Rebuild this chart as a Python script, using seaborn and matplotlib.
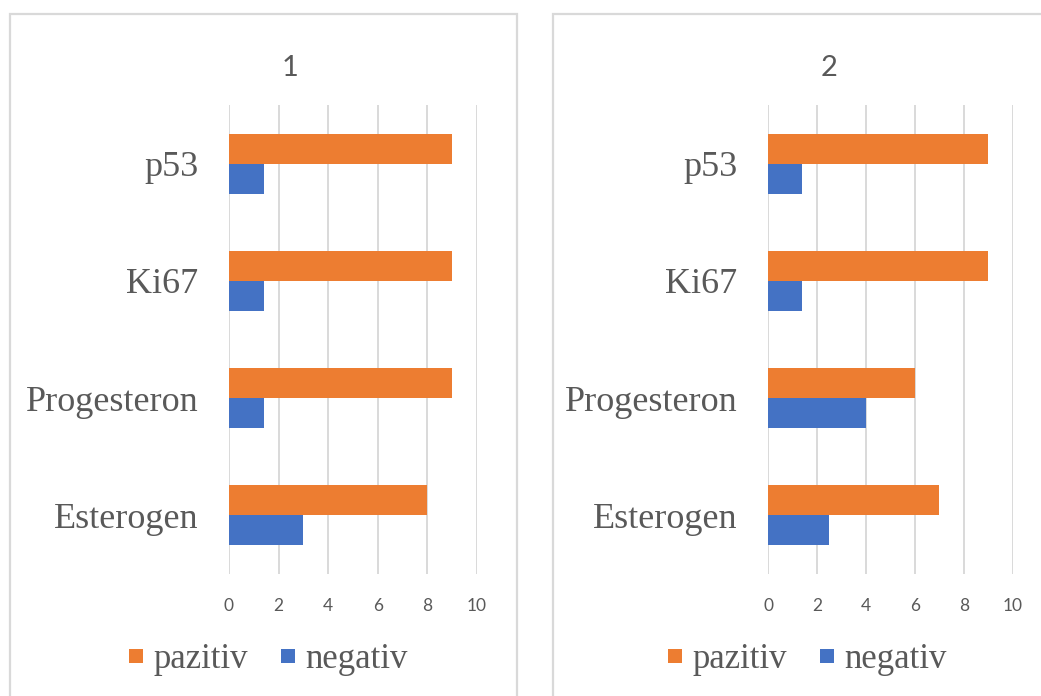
import matplotlib
matplotlib.use("Agg")
import matplotlib.pyplot as plt
from matplotlib.patches import Rectangle
from matplotlib.lines import Line2D
import seaborn as sns
import pandas as pd

# Marker names, top to bottom
markers = ["p53", "Ki67", "Progesteron", "Esterogen"]
series = ["pazitiv", "negativ"]

# Group 1
pazitiv_1 = [9, 9, 9, 8]
negativ_1 = [1.4, 1.4, 1.4, 3]

# Group 2
pazitiv_2 = [9, 9, 6, 7]
negativ_2 = [1.4, 1.4, 4, 2.5]

titles = ["1", "2"]
x_ticks = [0, 2, 4, 6, 8, 10]

ORANGE = "#ED7D31"
BLUE = "#4472C4"
TEXT = "#595959"
GRID = "#D9D9D9"
palette = {"pazitiv": ORANGE, "negativ": BLUE}

sns.set_theme(style="white")
plt.rcParams["font.family"] = ["Liberation Serif", "DejaVu Serif"]


def long_frame(paz, neg):
    rows = []
    for m, p, n in zip(markers, paz, neg):
        rows.append({"marker": m, "sign": "pazitiv", "value": p})
        rows.append({"marker": m, "sign": "negativ", "value": n})
    return pd.DataFrame(rows)


W, H = 1041, 696
fig = plt.figure(figsize=(W / 100, H / 100), dpi=100)
fig.patch.set_facecolor("white")

# Chart frames
fig.patches.append(Rectangle((10 / W, -0.05), (517 - 10) / W, 1.05 - 14 / H,
                             transform=fig.transFigure, fill=False,
                             edgecolor=GRID, linewidth=1.6))
fig.patches.append(Rectangle((553 / W, -0.05), 0.5, 1.05 - 14 / H,
                             transform=fig.transFigure, fill=False,
                             edgecolor=GRID, linewidth=1.6))

panels = [
    (long_frame(pazitiv_1, negativ_1), 229, 477, 290, 265),
    (long_frame(pazitiv_2, negativ_2), 768, 1013, 829, 804),
]

ax_bottom, ax_top = 574, 105

for i, (df, x0, x1, tx, lx) in enumerate(panels):
    ax = fig.add_axes([x0 / W, 1 - ax_bottom / H, (x1 - x0) / W, (ax_bottom - ax_top) / H])
    sns.barplot(data=df, x="value", y="marker", hue="sign", order=markers,
                hue_order=series, palette=palette, orient="h", width=0.51,
                saturation=1, linewidth=0, legend=False, ax=ax)
    ax.set_xlim(0, 10)
    ax.set_ylim(3.5, -0.5)
    ax.set_xticks(x_ticks)
    ax.set_xticklabels([str(t) for t in x_ticks], family=["Lato", "DejaVu Sans"],
                       fontsize=12.5, color=TEXT)
    ax.set_yticks(range(len(markers)))
    ax.set_yticklabels(markers, fontsize=26, color=TEXT)
    ax.tick_params(axis="both", length=0)
    ax.tick_params(axis="y", pad=22)
    ax.tick_params(axis="x", pad=17)
    ax.set_xlabel("")
    ax.set_ylabel("")
    for s in ax.spines.values():
        s.set_visible(False)
    ax.set_axisbelow(True)
    ax.xaxis.grid(True, color=GRID, linewidth=1.4)
    ax.yaxis.grid(False)

    fig.text(tx / W, 1 - 68 / H, titles[i], ha="center", va="center",
             family=["Lato", "DejaVu Sans"], fontsize=21, color=TEXT)

    handles = [Line2D([], [], linestyle="none", marker="s", markersize=10.5,
                      markerfacecolor=palette[s], markeredgewidth=0) for s in series]
    fig.legend(handles, series, loc="center", bbox_to_anchor=(lx / W, 1 - 660 / H),
               ncol=2, frameon=False, fontsize=25, labelcolor=TEXT,
               handletextpad=0.1, columnspacing=0.75, handlelength=0.8)

fig.savefig("out.png", dpi=100, facecolor="white")
